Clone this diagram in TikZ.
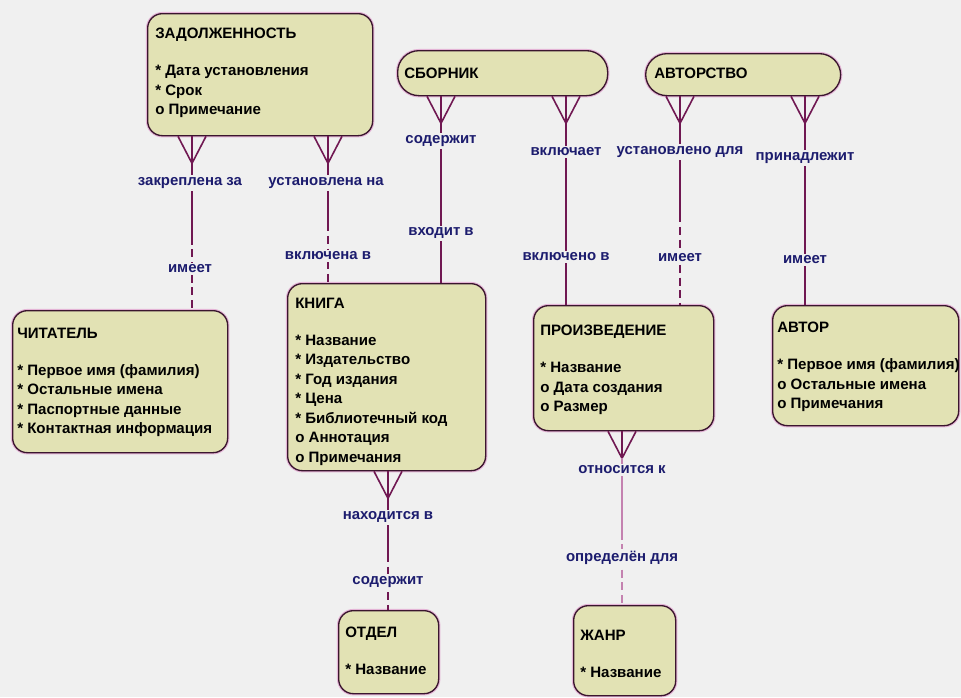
\documentclass[tikz,border=0pt]{standalone}
\usepackage{fontspec}
\setmainfont{Liberation Sans}
\usetikzlibrary{calc}

\definecolor{bg}{RGB}{240,240,240}
\definecolor{boxfill}{RGB}{226,226,180}
\definecolor{boxedge}{RGB}{58,22,46}
\definecolor{halo}{RGB}{228,180,214}
\definecolor{relcol}{RGB}{112,24,82}
\definecolor{relsoft}{RGB}{196,130,176}
\definecolor{lblcol}{RGB}{28,28,110}

\tikzset{
  entity/.style={draw=boxedge, fill=boxfill, line width=1pt,
    preaction={draw=halo, line width=2.6pt},
    rounded corners=11pt, inner sep=0pt, anchor=north west},
  pill/.style={entity, rounded corners=16pt},
  size/.style 2 args={minimum width=#1*0.75pt, minimum height=#2*0.75pt},
  etext/.style={anchor=north west, align=left, inner sep=0pt, text=black,
    font=\bfseries\fontsize{11.3}{14.6}\selectfont},
  rel/.style={draw=relcol, line width=1.2pt},
  opt/.style={dash pattern=on 6pt off 3.5pt},
  lbl/.style={fill=bg, text=lblcol, inner sep=1.5pt,
    font=\bfseries\fontsize{11.2}{12}\selectfont}
}

% one relationship: crow's foot on the source, solid half, then the second half in style #4
\newcommand\relation[4]{%
  \coordinate (#1s) at (#2.south -| #1);
  \coordinate (#1t) at (#3.north -| #1);
  \coordinate (#1p) at ($(#1s)+(0,27)$);
  \coordinate (#1m) at ($(#1p)!0.5!(#1t)$);
  \draw[rel] ([xshift=-10.5pt]#1s) -- (#1p) -- ([xshift=10.5pt]#1s);
  \draw[rel] (#1s) -- (#1m);
  \draw[rel,#4] (#1m) -- (#1t);
}

\begin{document}
\begin{tikzpicture}[x=0.75pt,y=-0.75pt]
\fill[bg] (0,0) rectangle (961,697);
\useasboundingbox (0,0) rectangle (961,697);

% entities
\node[entity, size={225}{122}] (zad) at (147,13) {};
\node[pill, size={210}{45}] (sbor) at (397,50) {};
\node[pill, size={195}{42}] (avts) at (645,53) {};
\node[entity, size={215}{142}] (chit) at (12,310) {};
\node[entity, size={198}{187}] (kniga) at (287,283) {};
\node[entity, size={180}{125}] (proiz) at (533,305) {};
\node[entity, size={186}{120}] (avtor) at (772,305) {};
\node[entity, size={100}{83}] (otdel) at (338,610) {};
\node[entity, size={102}{90}] (zhanr) at (573,605) {};

% attribute lists
\node[etext] (zadT) at (155,28) {ЗАДОЛЖЕННОСТЬ\\[13pt]* Дата установления\\* Срок\\o Примечание};
\node[etext] (sborT) at (404,68) {СБОРНИК};
\node[etext] (avtsT) at (654,68) {АВТОРСТВО};
\node[etext] (chitT) at (17,328) {ЧИТАТЕЛЬ\\[13pt]* Первое имя (фамилия)\\* Остальные имена\\* Паспортные данные\\* Контактная информация};
\node[etext] (knigaT) at (295,298) {КНИГА\\[13pt]* Название\\* Издательство\\* Год издания\\* Цена\\* Библиотечный код\\o Аннотация\\o Примечания};
\node[etext] (proizT) at (540,325) {ПРОИЗВЕДЕНИЕ\\[13pt]* Название\\o Дата создания\\o Размер};
\node[etext] (avtorT) at (777,322) {АВТОР\\[13pt]* Первое имя (фамилия)\\o Остальные имена\\o Примечания};
\node[etext] (otdelT) at (345,627) {ОТДЕЛ\\[13pt]* Название};
\node[etext] (zhanrT) at (580,630) {ЖАНР\\[13pt]* Название};

% columns of the relationship lines
\coordinate (ra) at (192,0);
\coordinate (rb) at (328,0);
\coordinate (rc) at (441,0);
\coordinate (rd) at (566,0);
\coordinate (re) at (680,0);
\coordinate (rf) at (805,0);
\coordinate (rg) at (388,0);
\coordinate (rh) at (622,0);

\relation{ra}{zad}{chit}{opt}
\relation{rb}{zad}{kniga}{opt}
\relation{rc}{sbor}{kniga}{}
\relation{rd}{sbor}{proiz}{}
\relation{re}{avts}{proiz}{opt}
\relation{rf}{avts}{avtor}{}
\relation{rg}{kniga}{otdel}{opt}
% genre link: drawn lighter
\coordinate (rhs) at (proiz.south -| rh);
\coordinate (rht) at (zhanr.north -| rh);
\coordinate (rhp) at ($(rhs)+(0,27)$);
\coordinate (rhm) at ($(rhp)!0.5!(rht)$);
\draw[rel] ([xshift=-10.5pt]rhs) -- (rhp) -- ([xshift=10.5pt]rhs);
\draw[rel] (rhs) -- (rhp);
\draw[rel,draw=relsoft] (rhp) -- (rhm);
\draw[rel,draw=relsoft,opt] (rhm) -- (rht);

% role labels
\node[lbl] (la1) at (190,183) {закреплена за};
\node[lbl] (la2) at (190,269) {имеет};
\node[lbl] (lb1) at (326,183) {установлена на};
\node[lbl] (lb2) at (328,256) {включена в};
\node[lbl] (lc1) at (441,141) {содержит};
\node[lbl] (lc2) at (441,233) {входит в};
\node[lbl] (ld1) at (566,152) {включает};
\node[lbl] (ld2) at (566,257) {включено в};
\node[lbl] (le1) at (680,152) {установлено для};
\node[lbl] (le2) at (680,258) {имеет};
\node[lbl] (lf1) at (805,158) {принадлежит};
\node[lbl] (lf2) at (805,260) {имеет};
\node[lbl] (lg1) at (388,517) {находится в};
\node[lbl] (lg2) at (388,582) {содержит};
\node[lbl] (lh1) at (622,470) {относится к};
\node[lbl] (lh2) at (622,558) {определён для};
\end{tikzpicture}
\end{document}
